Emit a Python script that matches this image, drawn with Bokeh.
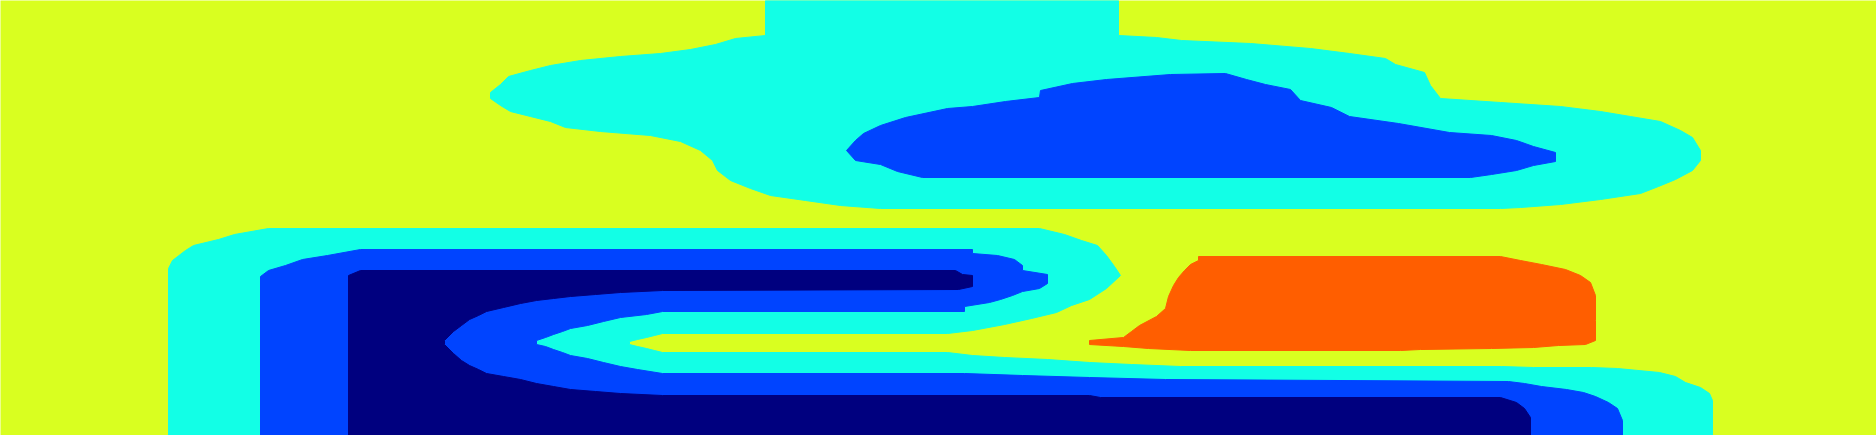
from bokeh.plotting import figure
from bokeh.models import Range1d, ColumnDataSource
from bokeh.embed import file_html
from bokeh.resources import INLINE

# level colours (jet-like, 5 levels)
NAVY = "#00007f"
BLUE = "#0044ff"
CYAN = "#12ffe6"
YELLOW = "#d9ff20"
ORANGE = "#ff5e00"

# region outlines (x, y in picture pixels, y downward)
cyan_top_x = [765, 1118, 1118, 1156, 1181, 1250, 1310, 1349, 1385, 1395, 1424, 1430, 1440, 1500, 1560, 1600,
              1630, 1660, 1680, 1692, 1700, 1700, 1692, 1675, 1658, 1640, 1600, 1560, 1520, 1500, 880, 840,
              805, 770, 750, 730, 717, 712, 700, 680, 650, 600, 565, 550, 530, 510, 500, 490, 490, 500, 508,
              530, 550, 580, 620, 660, 690, 715, 735, 765]
cyan_top_y = [0, 0, 35, 37, 40, 43, 48, 53, 58, 64, 72, 85, 98, 102, 106, 111,
              116, 121, 130, 137, 150, 160, 170, 179, 186, 193, 199, 204, 207, 208, 208, 205,
              200, 195, 188, 180, 170, 160, 150, 141, 135, 131, 127, 121, 116, 111, 105, 98, 92, 84, 76,
              70, 65, 60, 56, 53, 49, 44, 38, 35]

blue_top_x = [1040, 1072, 1106, 1170, 1225, 1246, 1265, 1290, 1300, 1331, 1349, 1398, 1449, 1491, 1516, 1533,
              1555, 1555, 1533, 1516, 1491, 1470, 922, 897, 880, 855, 846, 855, 863, 880, 905, 947, 972,
              1005, 1039]
blue_top_y = [90, 83, 79, 74, 73, 79, 84, 89, 100, 107, 116, 123, 132, 135, 140, 146,
              152, 161, 165, 170, 174, 177, 177, 171, 164, 160, 150, 140, 133, 125, 117, 108, 106,
              101, 97]

cyan_low_x = [268, 1039, 1064, 1081, 1097, 1106, 1114, 1120, 1106, 1089, 1071, 1056, 1031, 1004, 972, 947,
              662, 654, 646, 637, 629, 629, 637, 646, 654, 662, 947, 972, 1004, 1047, 1089, 1131, 1180,
              1501, 1533, 1591, 1617, 1659, 1675, 1685, 1700, 1709, 1712, 1712, 168, 168, 172, 185, 193,
              218, 234]
cyan_low_y = [228, 228, 234, 240, 245, 255, 266, 275, 288, 299, 305, 312, 318, 324, 330, 333,
              333, 335, 337, 339, 341, 344, 346, 348, 350, 352, 352, 355, 357, 359, 362, 364, 366,
              366, 367, 367, 368, 372, 376, 382, 387, 393, 400, 435, 435, 268, 260, 250, 245,
              239, 234]

blue_low_x = [360, 972, 972, 997, 1014, 1022, 1022, 1047, 1047, 1039, 1022, 1012, 1000, 989, 964, 964,
              662, 646, 620, 603, 587, 570, 562, 553, 545, 536, 536, 545, 553, 562, 570, 587, 603, 620,
              637, 662, 964, 1022, 1089, 1165, 1508, 1524, 1541, 1566, 1583, 1595, 1608, 1617, 1622,
              1622, 260, 260, 268, 285, 302, 327]
blue_low_y = [249, 249, 253, 255, 259, 265, 270, 274, 283, 288, 291, 295, 299, 302, 306, 311,
              311, 314, 317, 321, 325, 328, 331, 334, 337, 340, 344, 346, 349, 352, 355, 358, 362, 366,
              369, 373, 373, 375, 377, 379, 381, 383, 386, 389, 392, 396, 402, 408, 420,
              435, 435, 276, 270, 265, 259, 255]

navy_low_x = [360, 955, 962, 972, 972, 958, 662, 620, 595, 570, 553, 536, 520, 503, 486, 478, 469, 461,
              453, 444, 444, 453, 461, 469, 478, 486, 503, 520, 536, 553, 570, 595, 620, 662, 1089, 1100,
              1500, 1516, 1524, 1530, 1530, 348, 348]
navy_low_y = [270, 270, 274, 275, 286, 289, 290, 292, 294, 296, 298, 300, 303, 307, 311, 315, 319, 325,
              331, 340, 344, 353, 360, 365, 369, 373, 376, 379, 383, 386, 389, 391, 393, 395, 395, 397,
              397, 402, 408, 417, 435, 435, 275]

orange_x = [1198, 1500, 1520, 1541, 1565, 1580, 1590, 1595, 1595, 1595, 1585, 1558, 1533, 1491, 1420, 1400,
            1190, 1148, 1123, 1089, 1089, 1123, 1131, 1139, 1156, 1165, 1168, 1173, 1178, 1184, 1190, 1198]
orange_y = [256, 256, 260, 264, 269, 275, 282, 295, 320, 340, 344, 345, 347, 348, 349, 350,
            350, 348, 346, 344, 340, 337, 331, 325, 316, 308, 296, 285, 277, 270, 264, 260]

src = ColumnDataSource(dict(
    xs=[cyan_top_x, blue_top_x, cyan_low_x, blue_low_x, navy_low_x, orange_x],
    ys=[cyan_top_y, blue_top_y, cyan_low_y, blue_low_y, navy_low_y, orange_y],
    color=[CYAN, BLUE, CYAN, BLUE, NAVY, ORANGE],
))

p = figure(width=1876, height=435, x_range=Range1d(0, 1876), y_range=Range1d(435, 0),
           output_backend="svg", toolbar_location=None, min_border=0,
           background_fill_color=YELLOW, border_fill_color=YELLOW, outline_line_color=None)
p.patches("xs", "ys", fill_color="color", line_color="color", line_width=1, source=src)
p.axis.visible = False
p.grid.visible = False

open("out.html", "w").write(file_html(p, INLINE))
